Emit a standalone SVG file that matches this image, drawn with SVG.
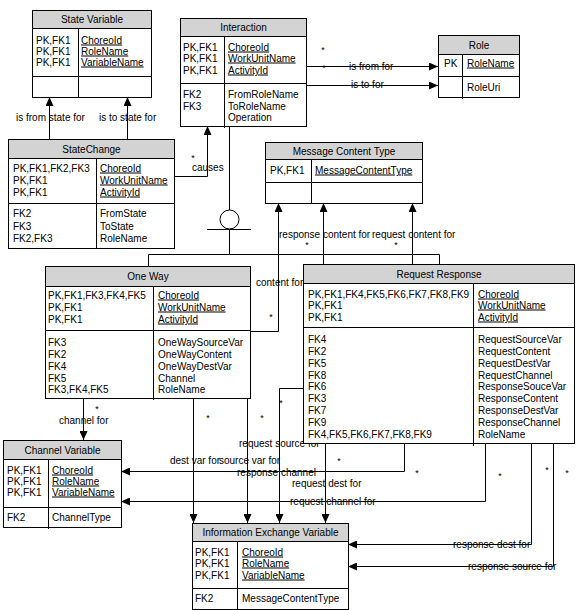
<svg xmlns="http://www.w3.org/2000/svg" width="576" height="610" viewBox="0 0 576 610">
<defs>
<marker id="arr" markerUnits="userSpaceOnUse" markerWidth="10" markerHeight="8" refX="9" refY="4" orient="auto">
<path d="M0,0 L9,4 L0,8 z" fill="#000"/>
</marker>
<style>
text{font-family:"Liberation Sans",Arial,sans-serif;font-size:10px;fill:#000}
.h{text-anchor:middle}
.u{text-decoration:underline}
.st{font-size:9px;text-anchor:middle}
.box{fill:#fff;stroke:#000;stroke-width:1}
.hdr{fill:#d3d3d3;stroke:#000;stroke-width:1}
.ln{fill:none;stroke:#000;stroke-width:1}
.c{fill:none;stroke:#000;stroke-width:1}
.a{marker-end:url(#arr)}
</style>
</defs>
<rect width="576" height="610" fill="#fff"/>

<g id="connectors">
<path class="c a" d="M49.5,139 V97"/>
<path class="c a" d="M127.5,139 V97"/>
<path class="c a" d="M174,176.5 H207.5 V126"/>
<path class="c" d="M229.5,126 V210"/>
<circle class="c" cx="229.5" cy="219.5" r="9.5"/>
<path class="c" d="M207,229.5 H251 M229.5,229.5 V254.5 M148.5,254.5 H439.5 M148.5,254.5 V266 M439.5,254.5 V264"/>
<path class="c a" d="M306,66.5 H438"/>
<path class="c a" d="M306,85.5 H438"/>
<path class="c a" d="M250,331.5 H278.5 V203"/>
<path class="c a" d="M323.5,264 V203"/>
<path class="c a" d="M412.5,264 V203"/>
<path class="c a" d="M83.5,398 V440"/>
<path class="c a" d="M193.5,398 V523"/>
<path class="c a" d="M247.5,398 V523"/>
<path class="c a" d="M303,388.5 H279.5 V523"/>
<path class="c a" d="M325.5,443 V523"/>
<path class="c a" d="M404.5,443 V471.5 H121"/>
<path class="c a" d="M485.5,443 V501.5 H121"/>
<path class="c a" d="M531.5,443 V544.5 H348"/>
<path class="c a" d="M553.5,443 V566.5 H348"/>

<text x="16" y="120.5">is from state for</text>
<text x="99" y="120.5">is to state for</text>
<text x="192" y="170.5">causes</text>
<text x="349" y="69.5">is from for</text>
<text x="351" y="88">is to for</text>
<text x="279" y="237.5">response content for</text>
<text x="372" y="237.5">request content for</text>
<text x="256" y="285.5">content for</text>
<text x="59" y="424">channel for</text>
<text x="170" y="464">dest var for</text>
<text x="219" y="464">source var for</text>
<text x="239" y="446.5">request source for</text>
<text x="237" y="476">response channel</text>
<text x="292" y="486.5">request dest for</text>
<text x="290" y="504.5">request channel for</text>
<text x="453" y="547.5">response dest for</text>
<text x="468" y="569.5">response source for</text>

<text class="st" x="193" y="161">*</text>
<text class="st" x="323" y="53">*</text>
<text class="st" x="324" y="71">*</text>
<text class="st" x="307" y="248">*</text>
<text class="st" x="396" y="248">*</text>
<text class="st" x="271" y="320">*</text>
<text class="st" x="97" y="412">*</text>
<text class="st" x="208" y="421">*</text>
<text class="st" x="262" y="421">*</text>
<text class="st" x="281" y="406">*</text>
<text class="st" x="339" y="464">*</text>
<text class="st" x="417" y="476">*</text>
<text class="st" x="500" y="479">*</text>
<text class="st" x="547" y="473">*</text>
<text class="st" x="567" y="476">*</text>
</g>

<g id="state-variable">
<rect class="box" x="32.5" y="10.5" width="119" height="87"/>
<rect class="hdr" x="32.5" y="10.5" width="119" height="18"/>
<path class="ln" d="M32.5,76.5 H151.5 M78.5,28.5 V97.5"/>
<text class="h" x="92" y="23">State Variable</text>
<text x="36" y="43.5">PK,FK1</text>
<text x="36" y="54.5">PK,FK1</text>
<text x="36" y="65.5">PK,FK1</text>
<text class="u" x="81" y="43.5">ChoreoId</text>
<text class="u" x="81" y="54.5">RoleName</text>
<text class="u" x="81" y="65.5">VariableName</text>
</g>

<g id="interaction">
<rect class="box" x="180.5" y="18.5" width="126" height="108"/>
<rect class="hdr" x="180.5" y="18.5" width="126" height="18"/>
<path class="ln" d="M180.5,83.5 H306.5 M224.5,36.5 V128"/>
<text class="h" x="243.5" y="31">Interaction</text>
<text x="183" y="50.5">PK,FK1</text>
<text x="183" y="61.5">PK,FK1</text>
<text x="183" y="73.5">PK,FK1</text>
<text class="u" x="228" y="50.5">ChoreoId</text>
<text class="u" x="228" y="61.5">WorkUnitName</text>
<text class="u" x="228" y="73.5">ActivityId</text>
<text x="183" y="97.5">FK2</text>
<text x="183" y="109.5">FK3</text>
<text x="228" y="97.5">FromRoleName</text>
<text x="228" y="109.5">ToRoleName</text>
<text x="228" y="120.5">Operation</text>
</g>

<g id="role">
<rect class="box" x="438.5" y="35.5" width="81" height="62"/>
<rect class="hdr" x="438.5" y="35.5" width="81" height="19"/>
<path class="ln" d="M438.5,76.5 H519.5 M462.5,54.5 V99"/>
<text class="h" x="479" y="48.5">Role</text>
<text x="444" y="66.5">PK</text>
<text class="u" x="467" y="66.5">RoleName</text>
<text x="467" y="91">RoleUri</text>
</g>

<g id="state-change">
<rect class="box" x="8.5" y="139.5" width="166" height="109"/>
<rect class="hdr" x="8.5" y="139.5" width="166" height="19"/>
<path class="ln" d="M8.5,203.5 H174.5 M96.5,158.5 V248.5"/>
<text class="h" x="91.5" y="152.5">StateChange</text>
<text x="13" y="171.5">PK,FK1,FK2,FK3</text>
<text x="13" y="183.5">PK,FK1</text>
<text x="13" y="195.5">PK,FK1</text>
<text class="u" x="100" y="171.5">ChoreoId</text>
<text class="u" x="100" y="183.5">WorkUnitName</text>
<text class="u" x="100" y="195.5">ActivityId</text>
<text x="13" y="216.5">FK2</text>
<text x="13" y="229.5">FK3</text>
<text x="13" y="241.5">FK2,FK3</text>
<text x="100" y="216.5">FromState</text>
<text x="100" y="229.5">ToState</text>
<text x="100" y="241.5">RoleName</text>
</g>

<g id="message-content-type">
<rect class="box" x="265.5" y="142.5" width="157" height="61"/>
<rect class="hdr" x="265.5" y="142.5" width="157" height="17"/>
<path class="ln" d="M265.5,182.5 H422.5 M311.5,159.5 V203.5"/>
<text class="h" x="344" y="154.5">Message Content Type</text>
<text x="270" y="173.5">PK,FK1</text>
<text class="u" x="315" y="173.5">MessageContentType</text>
</g>

<g id="one-way">
<rect class="box" x="45.5" y="266.5" width="205" height="132"/>
<rect class="hdr" x="45.5" y="266.5" width="205" height="20"/>
<path class="ln" d="M45.5,330.5 H250.5 M153.5,286.5 V400"/>
<text class="h" x="148" y="280">One Way</text>
<text x="48" y="298.5">PK,FK1,FK3,FK4,FK5</text>
<text x="48" y="310.5">PK,FK1</text>
<text x="48" y="322.5">PK,FK1</text>
<text class="u" x="158" y="298.5">ChoreoId</text>
<text class="u" x="158" y="310.5">WorkUnitName</text>
<text class="u" x="158" y="322.5">ActivityId</text>
<text x="48" y="345.5">FK3</text>
<text x="48" y="357.5">FK2</text>
<text x="48" y="369.5">FK4</text>
<text x="48" y="381.5">FK5</text>
<text x="48" y="392.5">FK3,FK4,FK5</text>
<text x="158" y="345.5">OneWaySourceVar</text>
<text x="158" y="357.5">OneWayContent</text>
<text x="158" y="369.5">OneWayDestVar</text>
<text x="158" y="381.5">Channel</text>
<text x="158" y="392.5">RoleName</text>
</g>

<g id="request-response">
<rect class="box" x="303.5" y="264.5" width="271" height="179"/>
<rect class="hdr" x="303.5" y="264.5" width="271" height="19"/>
<path class="ln" d="M303.5,327.5 H574.5 M473.5,283.5 V446"/>
<text class="h" x="439" y="277.5">Request Response</text>
<text x="308" y="297.5">PK,FK1,FK4,FK5,FK6,FK7,FK8,FK9</text>
<text x="308" y="308.5">PK,FK1</text>
<text x="308" y="320.5">PK,FK1</text>
<text class="u" x="478" y="297.5">ChoreoId</text>
<text class="u" x="478" y="308.5">WorkUnitName</text>
<text class="u" x="478" y="320.5">ActivityId</text>
<text x="308" y="342.5">FK4</text>
<text x="308" y="354.5">FK2</text>
<text x="308" y="366.5">FK5</text>
<text x="308" y="378.5">FK8</text>
<text x="308" y="389.5">FK6</text>
<text x="308" y="401.5">FK3</text>
<text x="308" y="413.5">FK7</text>
<text x="308" y="425.5">FK9</text>
<text x="308" y="437.5">FK4,FK5,FK6,FK7,FK8,FK9</text>
<text x="478" y="342.5">RequestSourceVar</text>
<text x="478" y="354.5">RequestContent</text>
<text x="478" y="366.5">RequestDestVar</text>
<text x="478" y="378.5">RequestChannel</text>
<text x="478" y="389.5">ResponseSouceVar</text>
<text x="478" y="401.5">ResponseContent</text>
<text x="478" y="413.5">ResponseDestVar</text>
<text x="478" y="425.5">ResponseChannel</text>
<text x="478" y="437.5">RoleName</text>
</g>

<g id="channel-variable">
<rect class="box" x="3.5" y="440.5" width="118" height="87"/>
<rect class="hdr" x="3.5" y="440.5" width="118" height="19"/>
<path class="ln" d="M3.5,507.5 H121.5 M48.5,459.5 V529"/>
<text class="h" x="62.5" y="453.5">Channel Variable</text>
<text x="7" y="473.5">PK,FK1</text>
<text x="7" y="484.5">PK,FK1</text>
<text x="7" y="495.5">PK,FK1</text>
<text class="u" x="52" y="473.5">ChoreoId</text>
<text class="u" x="52" y="484.5">RoleName</text>
<text class="u" x="52" y="495.5">VariableName</text>
<text x="7" y="520.5">FK2</text>
<text x="52" y="520.5">ChannelType</text>
</g>

<g id="information-exchange-variable">
<rect class="box" x="192.5" y="523.5" width="156" height="86"/>
<rect class="hdr" x="192.5" y="523.5" width="156" height="18"/>
<path class="ln" d="M192.5,588.5 H348.5 M237.5,541.5 V610"/>
<text class="h" x="270.5" y="536">Information Exchange Variable</text>
<text x="195" y="555.5">PK,FK1</text>
<text x="195" y="566.5">PK,FK1</text>
<text x="195" y="578.5">PK,FK1</text>
<text class="u" x="242" y="555.5">ChoreoId</text>
<text class="u" x="242" y="566.5">RoleName</text>
<text class="u" x="242" y="578.5">VariableName</text>
<text x="195" y="601.5">FK2</text>
<text x="242" y="601.5">MessageContentType</text>
</g>
</svg>
